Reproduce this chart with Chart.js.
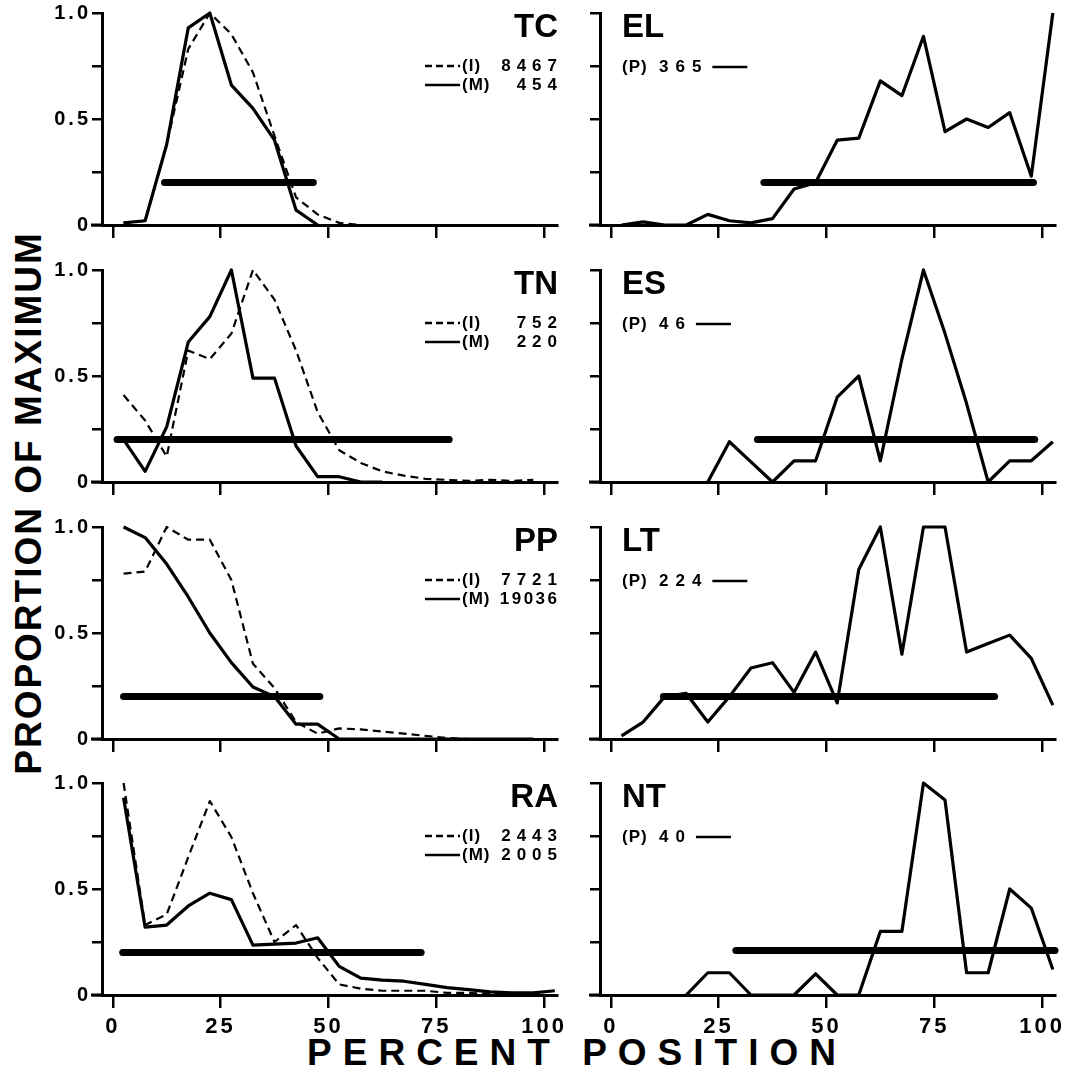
<!DOCTYPE html>
<html><head><meta charset="utf-8">
<script src="https://cdn.jsdelivr.net/npm/chart.js@4.4.1/dist/chart.umd.min.js"></script>
<style>
html,body{margin:0;padding:0;background:#fff;}
#fig{position:relative;width:1077px;height:1087px;overflow:hidden;background:#fff;}
#fig canvas{position:absolute;}
.t{position:absolute;font-family:"Liberation Sans",Arial,sans-serif;font-weight:bold;color:#000;white-space:nowrap;line-height:1;}
#ytitle{left:28px;top:503px;font-size:37px;letter-spacing:2px;transform:translate(-50%,-50%) rotate(-90deg);}
#xtitle{left:577px;top:1052px;font-size:37px;letter-spacing:11px;transform:translate(-50%,-50%);}
</style></head><body>
<div id="fig">
<div class="t" id="ytitle">PROPORTION OF MAXIMUM</div>
<div class="t" id="xtitle">PERCENT POSITION</div>
</div>
<script>
// ---- data ----
const positions = [2.5,7.5,12.5,17.5,22.5,27.5,32.5,37.5,42.5,47.5,52.5,57.5,62.5,67.5,72.5,77.5,82.5,87.5,92.5,97.5,102.5];
const xTickValues = [0,25,50,75,100];
const yTickValues = [0,0.25,0.5,0.75,1];
const yTickLabels = ['0','','0.5','','1.0'];

const tcI = [0.01,0.02,0.38,0.83,1.0,0.90,0.72,0.42,0.13,0.05,0.01,0,0,0,0,0,0,0,0,0,null];
const tcM = [0.01,0.02,0.38,0.93,1.0,0.66,0.55,0.40,0.07,0.0,null,null,null,null,null,null,null,null,null,null,null];
const tcBar = [12,46.5]; const tcBarLevel = 0.2;
const tcCounts = ['8467','454'];

const tnI = [0.41,0.29,0.12,0.62,0.58,0.70,1.0,0.86,0.62,0.33,0.15,0.09,0.05,0.03,0.015,0.01,0.005,0.01,0.005,0.01,null];
const tnM = [0.20,0.05,0.26,0.66,0.78,1.0,0.49,0.49,0.17,0.025,0.025,0,0,null,null,null,null,null,null,null,null];
const tnBar = [1,78]; const tnBarLevel = 0.2;
const tnCounts = ['752','220'];

const ppI = [0.78,0.79,1.0,0.94,0.94,0.75,0.355,0.24,0.08,0.025,0.05,0.045,0.035,0.025,0.015,0.005,0,0,0,0,null];
const ppM = [1.0,0.95,0.825,0.67,0.50,0.36,0.245,0.20,0.07,0.07,0.0,0,0,0,0,0,0,0,0,0,null];
const ppBar = [2.5,48]; const ppBarLevel = 0.2;
const ppCounts = ['7721','19036'];

const raI = [1.0,0.33,0.38,0.65,0.915,0.745,0.48,0.25,0.33,0.175,0.05,0.03,0.02,0.02,0.02,0.01,0.01,0.005,0,0,null];
const raM = [0.93,0.32,0.33,0.42,0.48,0.45,0.235,0.24,0.245,0.27,0.135,0.08,0.07,0.065,0.05,0.035,0.025,0.015,0.01,0.01,0.02];
const raBar = [2.3,71.5]; const raBarLevel = 0.2;
const raCounts = ['2443','2005'];

const elP = [0,0.015,0,0,0.05,0.02,0.01,0.03,0.17,0.2,0.40,0.41,0.68,0.61,0.89,0.44,0.50,0.46,0.53,0.23,1.0];
const elBar = [35.5,98]; const elBarLevel = 0.2; const elCount = '365';

const esP = [null,null,null,null,0,0.19,0.095,0,0.10,0.10,0.40,0.50,0.10,0.58,1.0,0.70,0.37,0,0.10,0.10,0.19];
const esBar = [34,98.3]; const esBarLevel = 0.2; const esCount = '46';

const ltP = [0.015,0.08,0.20,0.215,0.08,0.20,0.335,0.36,0.22,0.41,0.17,0.80,1.0,0.40,1.0,1.0,0.41,0.45,0.49,0.38,0.16];
const ltBar = [12.2,89]; const ltBarLevel = 0.2; const ltCount = '224';

const ntP = [null,null,null,0,0.105,0.105,0,0,0,0.10,0,0,0.30,0.30,1.0,0.92,0.105,0.105,0.50,0.41,0.12];
const ntBar = [29,103]; const ntBarLevel = 0.21; const ntCount = '40';

// ---- layout ----
const FONT = "'Liberation Sans', Arial, sans-serif";
const LEFT_AREA_X = 102, RIGHT_AREA_X = 600, AREA_W = 455, AREA_H = 212;
const ROW_TOPS = [13, 270, 527, 783];
const PAD_T = 20, PAD_R = 15, Y_W = 60, X_H = 50;
const X_MIN = -2.5, X_MAX = 103;

const panels = [
  {name:'TC', col:0, row:0, series:[{v:tcI,dash:true,tag:'(I)'},{v:tcM,dash:false,tag:'(M)'}], bar:tcBar, level:tcBarLevel, counts:tcCounts},
  {name:'TN', col:0, row:1, series:[{v:tnI,dash:true,tag:'(I)'},{v:tnM,dash:false,tag:'(M)'}], bar:tnBar, level:tnBarLevel, counts:tnCounts},
  {name:'PP', col:0, row:2, series:[{v:ppI,dash:true,tag:'(I)'},{v:ppM,dash:false,tag:'(M)'}], bar:ppBar, level:ppBarLevel, counts:ppCounts},
  {name:'RA', col:0, row:3, series:[{v:raI,dash:true,tag:'(I)'},{v:raM,dash:false,tag:'(M)'}], bar:raBar, level:raBarLevel, counts:raCounts},
  {name:'EL', col:1, row:0, series:[{v:elP,dash:false,tag:'(P)'}], bar:elBar, level:elBarLevel, counts:[elCount]},
  {name:'ES', col:1, row:1, series:[{v:esP,dash:false,tag:'(P)'}], bar:esBar, level:esBarLevel, counts:[esCount]},
  {name:'LT', col:1, row:2, series:[{v:ltP,dash:false,tag:'(P)'}], bar:ltBar, level:ltBarLevel, counts:[ltCount]},
  {name:'NT', col:1, row:3, series:[{v:ntP,dash:false,tag:'(P)'}], bar:ntBar, level:ntBarLevel, counts:[ntCount]}
];

function spacedText(ctx, text, x, y, sp, align) {
  const has = ('letterSpacing' in ctx);
  if (has) ctx.letterSpacing = sp + 'px';
  ctx.textAlign = align;
  ctx.fillText(text, (align === 'right' && has) ? x + sp : x, y);
  const w = ctx.measureText(text).width;
  if (has) ctx.letterSpacing = '0px';
  return w;
}

const spacingPlugin = {
  id: 'spacing',
  beforeDraw(chart) { if ('letterSpacing' in chart.ctx) chart.ctx.letterSpacing = '3px'; },
  afterDraw(chart) { if ('letterSpacing' in chart.ctx) chart.ctx.letterSpacing = '0px'; }
};

const decorPlugin = {
  id: 'decor',
  afterDraw(chart, args, o) {
    const ctx = chart.ctx, a = chart.chartArea;
    ctx.save();
    ctx.strokeStyle = '#000'; ctx.fillStyle = '#000';
    // baseline extends a little left of the vertical axis
    ctx.lineWidth = 3;
    ctx.beginPath(); ctx.moveTo(a.left - 11, a.bottom); ctx.lineTo(a.left, a.bottom); ctx.stroke();
    // panel label
    ctx.font = 'bold 33px ' + FONT;
    ctx.textBaseline = 'alphabetic';
    if (o.col === 0) { ctx.textAlign = 'right'; ctx.fillText(o.name, a.right + 1, a.top + 24); }
    else { ctx.textAlign = 'left'; ctx.fillText(o.name, a.left + 22, a.top + 24); }
    // legend
    ctx.textBaseline = 'middle';
    if (o.col === 0) {
      o.series.forEach((s, k) => {
        const y = a.top + 53 + 19 * k;
        ctx.lineWidth = 2.5;
        ctx.setLineDash(s.dash ? [7,4] : []);
        ctx.beginPath(); ctx.moveTo(a.right - 132, y); ctx.lineTo(a.right - 97, y); ctx.stroke();
        ctx.setLineDash([]);
        ctx.font = 'bold 17px ' + FONT;
        spacedText(ctx, s.tag, a.right - 95, y, 1, 'left');
        const n = o.counts[k];
        spacedText(ctx, n, a.right, y, n.length > 4 ? 2.5 : 6, 'right');
      });
    } else {
      const y = a.top + 54;
      ctx.font = 'bold 17px ' + FONT;
      spacedText(ctx, o.series[0].tag, a.left + 22, y, 1, 'left');
      const w = spacedText(ctx, o.counts[0], a.left + 59, y, 7, 'left');
      const x0 = a.left + 59 + w + 4;
      ctx.lineWidth = 2.5;
      ctx.beginPath(); ctx.moveTo(x0, y); ctx.lineTo(x0 + 35, y); ctx.stroke();
    }
    ctx.restore();
  }
};

const fig = document.getElementById('fig');

panels.forEach(p => {
  const cv = document.createElement('canvas');
  const W = Y_W + AREA_W + PAD_R, H = PAD_T + AREA_H + X_H;
  cv.width = W; cv.height = H;
  const areaX = p.col === 0 ? LEFT_AREA_X : RIGHT_AREA_X;
  cv.style.left = (areaX - Y_W) + 'px';
  cv.style.top = (ROW_TOPS[p.row] - PAD_T) + 'px';
  cv.style.width = W + 'px'; cv.style.height = H + 'px';
  fig.appendChild(cv);

  const datasets = [{
    data: [{x: p.bar[0], y: p.level}, {x: p.bar[1], y: p.level}],
    borderColor: '#000', borderWidth: 7, borderCapStyle: 'round',
    pointRadius: 0, fill: false, clip: false
  }];
  p.series.forEach(s => datasets.push({
    data: positions.map((x, i) => ({x: x, y: s.v[i]})),
    borderColor: '#000', borderWidth: s.dash ? 2.2 : 3.2,
    borderDash: s.dash ? [8,5] : [], borderJoinStyle: 'round',
    pointRadius: 0, tension: 0, fill: false, clip: false, spanGaps: false
  }));

  const showX = p.row === 3;
  new Chart(cv, {
    type: 'line',
    data: { datasets: datasets },
    plugins: [spacingPlugin, decorPlugin],
    options: {
      responsive: false, animation: false, devicePixelRatio: 1,
      events: [],
      layout: { padding: { left: 0, top: PAD_T, right: PAD_R, bottom: 0 } },
      plugins: {
        legend: { display: false }, tooltip: { enabled: false }, title: { display: false },
        decor: { name: p.name, col: p.col, series: p.series, counts: p.counts }
      },
      scales: {
        x: {
          type: 'linear', min: X_MIN, max: X_MAX, position: 'bottom',
          afterBuildTicks: s => { s.ticks = xTickValues.map(v => ({value: v})); },
          afterFit: s => { s.height = X_H; s.paddingLeft = 0; s.paddingRight = 0; },
          grid: { drawOnChartArea: false, drawTicks: true, tickLength: 13, color: '#000', lineWidth: 2.5 },
          border: { display: true, color: '#000', width: 3 },
          ticks: { display: showX, color: '#000', padding: 6, maxRotation: 0, autoSkip: false,
                   font: { family: FONT, size: 22, weight: 'bold' } }
        },
        y: {
          type: 'linear', min: 0, max: 1, position: 'left',
          afterBuildTicks: s => { s.ticks = yTickValues.map(v => ({value: v})); },
          afterFit: s => { s.width = Y_W; s.paddingTop = 0; s.paddingBottom = 0; },
          grid: { drawOnChartArea: false, drawTicks: true, tickLength: 10, color: '#000', lineWidth: 2.5 },
          border: { display: true, color: '#000', width: 3 },
          ticks: { color: '#000', padding: 1, autoSkip: false,
                   callback: (v, i) => p.col === 0 ? yTickLabels[i] : '',
                   font: { family: FONT, size: 20, weight: 'bold' } }
        }
      }
    }
  });
});
</script>
</body></html>
